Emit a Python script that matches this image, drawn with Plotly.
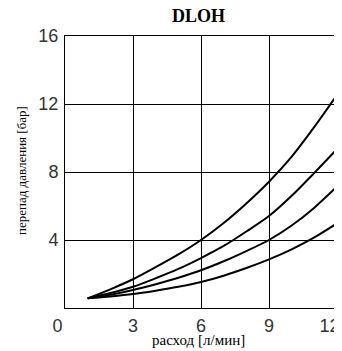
import plotly.graph_objects as go

title_text = "DLOH"
x_label = "расход [л/мин]"
y_label = "перепад давления [бар]"

flow = [1, 2, 3, 4, 5, 6, 7, 8, 9, 10, 11, 12]
curve_1 = [0.57, 1.10, 1.69, 2.40, 3.15, 4.00, 5.00, 6.15, 7.43, 8.90, 10.65, 12.53]
curve_2 = [0.57, 0.88, 1.25, 1.75, 2.30, 2.94, 3.65, 4.50, 5.41, 6.60, 7.95, 9.35]
curve_3 = [0.57, 0.78, 1.06, 1.40, 1.78, 2.22, 2.75, 3.35, 4.00, 4.85, 5.90, 7.14]
curve_4 = [0.57, 0.68, 0.82, 1.02, 1.25, 1.53, 1.90, 2.35, 2.86, 3.45, 4.15, 4.98]

x_ticks = [0, 3, 6, 9, 12]
x_ticktext = ["0\u00a0\u00a0\u00a0", "3", "6", "9", "12\u00a0\u00a0\u00a0"]
y_ticks = [0, 4, 8, 12, 16]
y_ticktext = ["", "4", "8", "12", "16"]

fig = go.Figure()
for ys in (curve_1, curve_2, curve_3, curve_4):
    fig.add_trace(go.Scatter(x=flow, y=ys, mode="lines",
                             line=dict(color="black", width=2, shape="spline", smoothing=0.8),
                             showlegend=False, hoverinfo="skip"))

# page body has an 8px default margin: shrink the figure so it fits the window
OFF = 8
W, H = 342 - OFF, 351 - OFF
L, R, T, B = 65 - OFF, 5, 36 - OFF, 43
pw = W - L - R
ph = H - T - B

tick_font = dict(family="Liberation Sans Narrow, Arial Narrow, sans-serif", size=18, color="#333")
serif = "Liberation Serif, Times New Roman, serif"

fig.update_layout(
    width=W, height=H,
    margin=dict(l=L, r=R, t=T, b=B, autoexpand=False),
    paper_bgcolor="white", plot_bgcolor="white",
    xaxis=dict(range=[0, 12], tickvals=x_ticks, ticktext=x_ticktext, showgrid=True,
               gridcolor="black", gridwidth=1, showline=True, linecolor="black", linewidth=1,
               mirror=True, zeroline=False, ticks="", tickfont=tick_font, ticklabelstandoff=1,
               ticklabeloverflow="allow", automargin=False, fixedrange=True),
    yaxis=dict(range=[0, 16], tickvals=y_ticks, ticktext=y_ticktext, showgrid=True,
               gridcolor="black", gridwidth=1, showline=True, linecolor="black", linewidth=1,
               mirror=True, zeroline=False, ticks="", tickfont=tick_font, ticklabelstandoff=2,
               automargin=False, fixedrange=True),
    annotations=[
        dict(text="<b>" + title_text + "</b>", xref="paper", yref="paper",
             x=(198 - 65) / pw, y=1 + (36 - 16.5) / ph, xanchor="center", yanchor="middle",
             showarrow=False, borderpad=0, font=dict(family=serif, size=18, color="black")),
        dict(text=x_label, xref="paper", yref="paper",
             x=(198 - 65) / pw, y=-(339.5 - 308) / ph, xanchor="center", yanchor="middle",
             showarrow=False, borderpad=0, font=dict(family=serif, size=15, color="black")),
        dict(text=y_label, xref="paper", yref="paper", textangle=-90,
             x=(21 - 65) / pw, y=(308 - 171) / ph, xanchor="center", yanchor="middle",
             showarrow=False, borderpad=0, font=dict(family=serif, size=13, color="black")),
    ],
)

fig.write_html("out.html")
